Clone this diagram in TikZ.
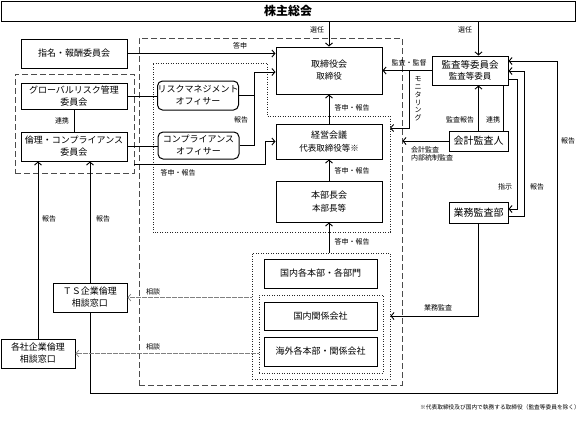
\documentclass[tikz,border=0pt]{standalone}
\usepackage{fontspec}
\setmainfont{Noto Sans CJK JP}
\usetikzlibrary{arrows.meta}
\tikzstyle{box}=[draw,line width=1pt,inner sep=0pt,align=center,font=\fontsize{9}{12}\selectfont]
\tikzstyle{officer}=[box,rounded corners=5pt]
\tikzstyle{lbl}=[inner sep=0pt,font=\fontsize{7}{8.5}\selectfont]
\tikzstyle{frame}=[draw=black!70,dash pattern=on 6pt off 3pt,line width=0.9pt,inner sep=0pt]
\tikzstyle{dotframe}=[draw=black!85,dash pattern=on 1pt off 1.5pt,line width=0.9pt,inner sep=0pt]
\tikzstyle{conn}=[line width=0.9pt,-{Straight Barb[length=3pt,width=7pt]}]
\tikzstyle{talk}=[draw=black!50,line width=1.3pt,dash pattern=on 0.7pt off 0.5pt,-{Straight Barb[length=3pt,width=7pt,line width=0.7pt]}]
\newcommand{\subtext}[1]{{\fontsize{8.5}{11}\selectfont #1}}

\begin{document}
\begin{tikzpicture}[x=1pt,y=-1pt]
\useasboundingbox (0,0) rectangle (582,421);
% frames
\node[frame,minimum width=263pt,minimum height=347pt] (shikko) at (270.5,211.5) {};
\node[frame,minimum width=119pt,minimum height=99pt] (iinkai) at (74.5,123.5) {};
\node[dotframe,minimum width=138pt,minimum height=126pt] (genba) at (321,316) {};
\node[dotframe,minimum width=124pt,minimum height=78pt] (kanren) at (321,334) {};
\draw[dotframe] (153,63) -- (267,63) -- (267,116) -- (390,116) -- (390,232) -- (153,232) -- cycle;
\coordinate (keieiR) at (390,128);

% vertices
\node[box,minimum width=574pt,minimum height=20pt,font=\fontsize{12}{14}\selectfont\bfseries] (kabunushi) at (288,11) {株主総会};
\node[box,minimum width=106pt,minimum height=29pt] (shimei) at (74,53.5) {指名・報酬委員会};
\node[box,minimum width=106pt,minimum height=26pt] (global) at (74,96) {グローバルリスク管理\\委員会};
\node[box,minimum width=106pt,minimum height=29pt] (rinri) at (74,146.5) {倫理・コンプライアンス\\委員会};
\node[officer,minimum width=80pt,minimum height=29pt] (riskoff) at (198,95.5) {リスクマネジメント\\オフィサー};
\node[officer,minimum width=81pt,minimum height=27pt] (compoff) at (198.5,145.5) {コンプライアンス\\オフィサー};
\node[box,minimum width=106pt,minimum height=47pt] (torishimari) at (329,70.5) {取締役会\\\subtext{取締役}};
\node[box,minimum width=106pt,minimum height=35pt] (keiei) at (329,141.5) {経営会議\\[1pt]\subtext{代表取締役等※}};
\node[box,minimum width=106pt,minimum height=41pt] (honbu) at (329,201.5) {本部長会\\[1pt]\subtext{本部長等}};
\node[box,minimum width=113pt,minimum height=29pt] (kokunai) at (320.5,273.5) {国内各本部・各部門};
\node[box,minimum width=113pt,minimum height=28pt] (kankei) at (320.5,316) {国内関係会社};
\node[box,minimum width=113pt,minimum height=29pt] (kaigai) at (320.5,351.5) {海外各本部・関係会社};
\node[box,minimum width=76pt,minimum height=29pt,font=\fontsize{9.5}{11}\selectfont] (kansa) at (470,70.5) {監査等委員会\\\subtext{監査等委員}};
\node[box,minimum width=59pt,minimum height=20pt,font=\fontsize{10}{12}\selectfont] (kaikei) at (478.5,141) {会計監査人};
\node[box,minimum width=59pt,minimum height=21pt,font=\fontsize{10}{12}\selectfont] (gyomu) at (478.5,212.5) {業務監査部};
\node[box,minimum width=74pt,minimum height=29pt] (ts) at (90,297.5) {ＴＳ企業倫理\\相談窓口};
\node[box,minimum width=74pt,minimum height=29pt] (kakusha) at (38,353.5) {各社企業倫理\\相談窓口};

% bend points
\coordinate (hokokuJ) at (254,72);
\coordinate (toshinJ) at (265,164);
\coordinate (monitorT) at (409,70.5);
\coordinate (monitorB) at (409,128);
\coordinate (shijiR) at (517,79);
\coordinate (shijiB) at (517,209);
\coordinate (gHokokuB) at (524,216);
\coordinate (gHokokuT) at (524,71);
\coordinate (gyomuB) at (478.5,316);
\coordinate (outerBL) at (90,393);
\coordinate (outerBR) at (557,393);
\coordinate (outerTR) at (557,61);

% edges and paths
\draw[conn] (kabunushi.south -| torishimari.north) -- (torishimari.north);
\draw[conn] (kabunushi.south -| kaikei.north) -- (kaikei.north |- kansa.north);
\draw[conn] (shimei.east) -- (shimei.east -| torishimari.west);
\draw[line width=0.9pt] (global.east) -- (global.east -| riskoff.west);
\draw[line width=0.9pt] (rinri.east) -- (rinri.east -| compoff.west);
\draw[line width=0.9pt] (global) -- (rinri);
\draw[line width=0.9pt] (riskoff.east) -- (riskoff.east -| hokokuJ);
\draw[conn] (compoff.east) -- (compoff.east -| hokokuJ) -- (hokokuJ) -- (hokokuJ -| torishimari.west);
\draw[conn] (iinkai.east |- toshinJ) -- (toshinJ) -- (toshinJ |- keiei.west) -- (keiei.west);
\draw[conn] (keiei) -- (torishimari);
\draw[conn] (honbu) -- (keiei);
\draw[conn] (genba.north -| honbu.south) -- (honbu.south);
\draw[conn] (kansa) -- (torishimari);
\draw[conn] (monitorT) -- (monitorB) -- (keieiR);
\draw[conn] (kaikei.west) -- (kaikei.west -| shikko.east);
\draw[conn] (kaikei.north) -- (kaikei.north |- kansa.south);
\draw[line width=0.9pt] ([xshift=-5pt]kaikei.north east) -- ([xshift=-5pt]kaikei.north east |- kansa.south);
\draw[conn] (kansa.east |- shijiR) -- (shijiR) -- (shijiB) -- (shijiB -| gyomu.east);
\draw[conn] (gyomu.east |- gHokokuB) -- (gHokokuB) -- (gHokokuT) -- (gHokokuT -| kansa.east);
\draw[conn] (gyomu.south) -- (gyomuB) -- (gyomuB -| genba.east);
\draw[conn] (ts.south) -- (outerBL) -- (outerBR) -- (outerTR) -- (outerTR -| kansa.east);
\draw[conn] (ts.north) -- (ts.north |- rinri.south);
\draw[conn] (kakusha.north) -- (kakusha.north |- rinri.south);
\draw[talk] (genba.west |- ts.east) -- (ts.east);
\draw[talk] (kanren.west |- kakusha.east) -- (kakusha.east);

% labels
\node[lbl] (senninL) at (317,30) {選任};
\node[lbl] (senninR) at (465,30) {選任};
\node[lbl] (toshinA) at (240,46) {答申};
\node[lbl] (hokokuA) at (241,120) {報告};
\node[lbl] (toshinB) at (178,173) {答申・報告};
\node[lbl] (toshinC) at (352,108) {答申・報告};
\node[lbl] (toshinD) at (352,171) {答申・報告};
\node[lbl] (toshinE) at (352,242) {答申・報告};
\node[lbl] (kantokuL) at (409,63) {監査・監督};
\node[lbl,align=center,font=\fontsize{7}{7.8}\selectfont] (monitorL) at (418,99) {モ\\ニ\\タ\\リ\\ン\\グ};
\node[lbl] (kansaHokokuL) at (460,120) {監査報告};
\node[lbl] (renkeiR) at (493,120) {連携};
\node[lbl,align=left,anchor=north west] (kaikeiL) at (411,146) {会計監査\\内部統制監査};
\node[lbl] (shijiL) at (505,187) {指示};
\node[lbl] (hokokuG) at (537,187) {報告};
\node[lbl] (hokokuO) at (568,141) {報告};
\node[lbl] (gyomuL) at (438,308) {業務監査};
\node[lbl] (sodanA) at (153,292) {相談};
\node[lbl] (sodanB) at (153,347) {相談};
\node[lbl] (renkeiL) at (62,121) {連携};
\node[lbl] (hokokuK) at (49,219) {報告};
\node[lbl] (hokokuT) at (103,219) {報告};
\node[lbl,anchor=east,font=\fontsize{5.7}{7}\selectfont] (chushaku) at (580,407) {※代表取締役及び国内で執務する取締役（監査等委員を除く）};
\end{tikzpicture}
\end{document}
